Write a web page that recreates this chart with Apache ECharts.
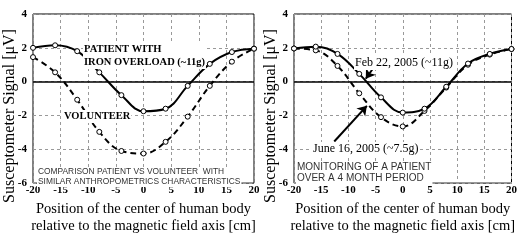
<!DOCTYPE html>
<html>
<head>
<meta charset="utf-8">
<script src="https://cdn.jsdelivr.net/npm/echarts@6/dist/echarts.min.js"></script>
<style>
  html, body { margin: 0; padding: 0; background: #fff; }
  #chart { width: 520px; height: 240px; }
</style>
</head>
<body>
<div id="chart"></div>
<script>
// positions along the body (cm)
const positions = [-20, -16, -12, -8, -4, 0, 4, 8, 12, 16, 20];
// left panel
const patientIron = [2.0, 2.15, 1.8, 0.55, -0.8, -1.75, -1.6, -0.25, 1.05, 1.75, 1.95];
const volunteer = [1.45, 0.55, -1.07, -2.97, -4.1, -4.25, -3.56, -2.07, -0.25, 1.18, 1.95];
// right panel
const feb22 = [1.96, 2.07, 1.64, 0.46, -0.93, -1.83, -1.6, -0.3, 1.07, 1.64, 1.93];
const june16 = [1.96, 1.85, 0.93, -0.69, -2.1, -2.65, -1.73, -0.35, 1.0, 1.6, 1.93];
const xTicks = [-20, -15, -10, -5, 0, 5, 10, 15, 20];
const yTicks = [-6, -4, -2, 0, 2, 4];

const serif = '"Liberation Serif", "DejaVu Serif", serif';
const sans = '"Liberation Sans", Arial, sans-serif';

function pairs(ys) {
  return positions.map((x, i) => [x, ys[i]]);
}

let myChart = echarts.init(document.getElementById('chart'));

function xAxisFor(gi) {
  return {
    gridIndex: gi,
    type: 'value',
    min: xTicks[0],
    max: xTicks[xTicks.length - 1],
    interval: 5,
    name: 'Position of the center of human body\nrelative to the magnetic field axis [cm]',
    nameLocation: 'middle',
    nameGap: 15,
    nameTextStyle: { fontFamily: serif, fontSize: 14.5, color: '#000', lineHeight: 17, verticalAlign: 'top' },
    axisLine: { show: false },
    axisTick: { show: false },
    axisLabel: { margin: 2, fontFamily: serif, fontWeight: 'bold', fontSize: 11, color: '#000' },
    splitLine: { show: true, lineStyle: { color: '#999', type: [3, 3], width: 1 } }
  };
}
function yAxisFor(gi) {
  return {
    gridIndex: gi,
    type: 'value',
    min: yTicks[0],
    max: yTicks[yTicks.length - 1],
    interval: 2,
    axisLine: { show: false },
    axisTick: { show: false },
    axisLabel: { margin: 6, fontFamily: serif, fontWeight: 'bold', fontSize: 11, color: '#000' },
    splitLine: { show: true, lineStyle: { color: '#999', type: [3, 3], width: 1 } }
  };
}

function lineSeries(gi, ys, dashed, extra) {
  return Object.assign({
    type: 'line',
    xAxisIndex: gi,
    yAxisIndex: gi,
    data: pairs(ys),
    smooth: 0.4,
    symbol: 'circle',
    symbolSize: 5,
    itemStyle: { color: '#fff', borderColor: '#000', borderWidth: 1 },
    lineStyle: { color: '#000', width: 2, type: dashed ? [6, 4] : 'solid' },
    z: dashed ? 3 : 4
  }, extra || {});
}

const zeroLine = {
  silent: true,
  symbol: 'none',
  label: { show: false },
  lineStyle: { color: '#000', width: 1.5, type: 'solid' },
  data: [{ yAxis: 0 }]
};

function arrow(from, to) {
  return [
    { coord: from, symbol: 'none' },
    { coord: to, symbol: 'arrow', symbolSize: 9 }
  ];
}

function note(left, top, text, font, lh, fill) {
  return {
    type: 'text', left: left, top: top, z: 100,
    style: { text: text, font: font, lineHeight: lh, fill: fill || '#000', backgroundColor: '#fff', padding: [0, 1] }
  };
}

function yName(x) {
  return {
    type: 'text', x: x, y: 116, rotation: Math.PI / 2, z: 100,
    style: { text: 'Susceptometer Signal [\u03bcV]', font: '16px ' + serif, fill: '#000', align: 'center', verticalAlign: 'middle' }
  };
}

const option = {
  animation: false,
  backgroundColor: '#fff',
  grid: [
    { left: 33, top: 14, width: 221, height: 175, show: true, borderColor: '#000', borderWidth: 1, backgroundColor: 'transparent' },
    { left: 294, top: 14, width: 221, height: 175, show: true, borderColor: '#000', borderWidth: 1, backgroundColor: 'transparent' }
  ],
  xAxis: [xAxisFor(0), xAxisFor(1)],
  yAxis: [yAxisFor(0), yAxisFor(1)],
  series: [
    lineSeries(0, volunteer, true, { markLine: zeroLine }),
    lineSeries(0, patientIron, false),
    lineSeries(1, june16, true, { markLine: zeroLine }),
    lineSeries(1, feb22, false, {
      markLine: {
        silent: true,
        label: { show: false },
        lineStyle: { color: '#000', width: 2, type: 'solid' },
        data: [
          arrow([-4.8, 1.09], [-6.8, 0.17]),
          arrow([-12.6, -3.54], [-6.6, -1.43])
        ]
      }
    })
  ],
  graphic: [
    yName(10),
    yName(271),
    note(83, 43, 'PATIENT WITH\nIRON OVERLOAD (~11g)', 'bold 10.5px ' + serif, 13),
    note(63, 110, 'VOLUNTEER', 'bold 10.5px ' + serif, 13),
    note(37, 167, 'COMPARISON PATIENT VS VOLUNTEER  WITH\nSIMILAR ANTHROPOMETRICS CHARACTERISTICS', '8.4px ' + sans, 10, '#333'),
    note(354, 56, 'Feb 22, 2005 (~11g)', '12px ' + serif, 14),
    note(312, 142, 'June 16, 2005 (~7.5g)', '12px ' + serif, 14),
    note(296, 162, 'MONITORING OF A PATIENT\nOVER A 4 MONTH PERIOD', '10px ' + sans, 11, '#333')
  ]
};

myChart.setOption(option, true);
</script>
</body>
</html>
